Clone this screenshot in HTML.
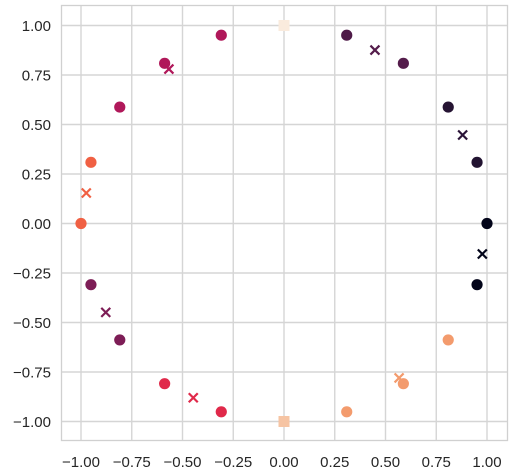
<!DOCTYPE html>
<html><head><meta charset="utf-8"><style>
body{margin:0;background:#fff;}
svg{display:block;font-family:"Liberation Sans","DejaVu Sans",sans-serif;}
</style></head><body>
<svg id="chart" width="514" height="476">
<rect x="61.5" y="5.5" width="446" height="435" fill="#fff" stroke="#d0d0d0" stroke-width="1.3"/>
<g id="grid"></g><g id="marks"></g><g id="ticks"></g>
</svg>
<script>
const xTicks=[-1,-0.75,-0.5,-0.25,0,0.25,0.5,0.75,1];
const yTicks=[-1,-0.75,-0.5,-0.25,0,0.25,0.5,0.75,1];
const circleX=[1,0.951,0.809,0.588,0.309,-0.309,-0.588,-0.809,-0.951,-1,-0.951,-0.809,-0.588,-0.309,0.309,0.588,0.809,0.951];
const circleY=[0,0.309,0.588,0.809,0.951,0.951,0.809,0.588,0.309,0,-0.309,-0.588,-0.809,-0.951,-0.951,-0.809,-0.588,-0.309];
const circleC=["#03051a","#221331","#261433","#541c4b","#4e1a48","#b0185a","#b0185a","#b0185a","#f06043","#f06043","#7d1d56","#7d1d56","#e0294a","#e0294a","#f39b6d","#f39b6d","#f39b6d","#03051a"];
const squareX=[0,0];
const squareY=[1,-1];
const squareC=["#faebdd","#f6c4a3"];
const crossX=[0.448,0.88,0.977,-0.567,-0.974,-0.878,-0.447,0.567];
const crossY=[0.876,0.447,-0.154,0.78,0.154,-0.449,-0.88,-0.78];
const crossC=["#541c4b","#2b1438","#03051a","#b0185a","#f06043","#7d1d56","#e0294a","#f39b6d"];
const sx=v=>284+203*v, sy=v=>223.5-198*v;
const NS="http://www.w3.org/2000/svg";
function mk(tag,attrs,parent){const e=document.createElementNS(NS,tag);for(const k in attrs)e.setAttribute(k,attrs[k]);parent.appendChild(e);return e;}
const grid=document.getElementById('grid'),marks=document.getElementById('marks'),ticks=document.getElementById('ticks');
xTicks.forEach(t=>{
 const l=mk('line',{x1:sx(t),x2:sx(t),y1:6,y2:440,stroke:'#d5d5d5','stroke-width':1.4},grid);
 
 
 const tx=mk('text',{x:sx(t),y:467,'text-anchor':'middle','font-size':15,fill:'#262626'},ticks);
 tx.textContent=(t<0?'\u2212':'')+Math.abs(t).toFixed(2);
 
 
});
yTicks.forEach(t=>{
 const l=mk('line',{x1:62,x2:507,y1:sy(t),y2:sy(t),stroke:'#d5d5d5','stroke-width':1.4},grid);
 
 
 const tx=mk('text',{x:51,y:sy(t)+5.5,'text-anchor':'end','font-size':15,fill:'#262626'},ticks);
 tx.textContent=(t<0?'\u2212':'')+Math.abs(t).toFixed(2);
 
 
});
circleX.forEach((v,i)=>{
 const c=mk('circle',{cx:sx(v),cy:sy(circleY[i]),r:5.6,fill:circleC[i]},marks);
 
 
});
squareX.forEach((v,i)=>{
 const r=mk('rect',{x:sx(v)-5.5,y:sy(squareY[i])-5.5,width:11,height:11,fill:squareC[i]},marks);
 
 
});
crossX.forEach((v,i)=>{
 const x=sx(v),y=sy(crossY[i]),d=4.5;
 const p=mk('path',{d:`M${x-d},${y-d}L${x+d},${y+d}M${x-d},${y+d}L${x+d},${y-d}`,stroke:crossC[i],'stroke-width':2.2,fill:'none'},marks);
 
 
});
</script>
</body></html>
